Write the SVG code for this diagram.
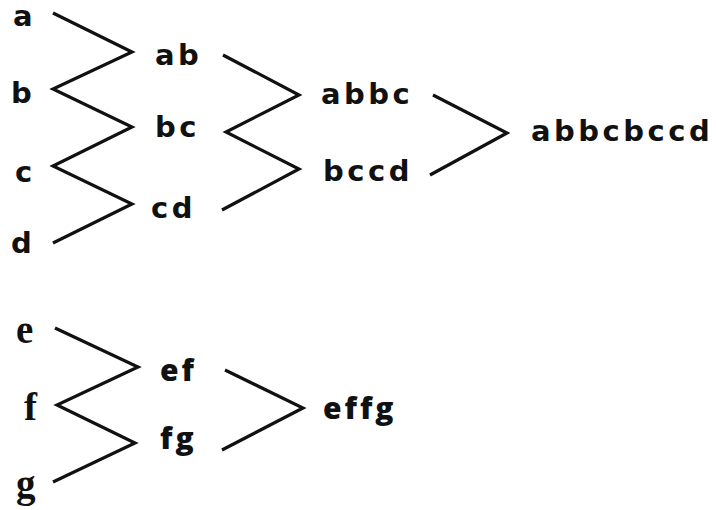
<svg xmlns="http://www.w3.org/2000/svg" width="716" height="510" viewBox="0 0 716 510">
  <style>
    .lbl { font-family: "DejaVu Sans", "Liberation Sans", sans-serif; font-weight: bold; font-size: 29px; letter-spacing: 3.5px; fill: #111; }
    .ser { font-family: "Liberation Serif", "DejaVu Serif", serif; font-weight: bold; font-size: 39px; fill: #111; }
    .hum { font-family: "Open Sans", "Noto Sans", sans-serif; font-weight: 800; font-size: 30px; letter-spacing: 3px; fill: #111; }
    .wire { fill: none; stroke: #111; stroke-width: 3.2; stroke-linejoin: miter; stroke-linecap: butt; }
  </style>
  <rect width="716" height="510" fill="#fff"/>

  <!-- connectors -->
  <g id="connectors">
    <polyline class="wire" points="53,13 132,52 53,89 132,127 53,166 132,204 53,243"/>
    <polyline class="wire" points="223,55 299,95 226,132 299,169 222,210"/>
    <polyline class="wire" points="433,95 507,133 430,175"/>
    <polyline class="wire" points="55,328 138,367 57,405 135,443 53,482"/>
    <polyline class="wire" points="225,370 303,408 222,450"/>
  </g>

  <!-- first tree -->
  <g id="n-a"><text class="lbl" x="13" y="26">a</text></g>
  <g id="n-b"><text class="lbl" x="11" y="103">b</text></g>
  <g id="n-c"><text class="lbl" x="15" y="182">c</text></g>
  <g id="n-d"><text class="lbl" x="11" y="253">d</text></g>
  <g id="n-ab"><text class="lbl" x="155" y="65">ab</text></g>
  <g id="n-bc"><text class="lbl" x="155" y="137">bc</text></g>
  <g id="n-cd"><text class="lbl" x="151" y="218">cd</text></g>
  <g id="n-abbc"><text class="lbl" x="321" y="104">abbc</text></g>
  <g id="n-bccd"><text class="lbl" x="323" y="181">bccd</text></g>
  <g id="n-abbcbccd"><text class="lbl" x="531" y="141">abbcbccd</text></g>

  <!-- second tree -->
  <g id="n-e"><text class="ser" x="16" y="343">e</text></g>
  <g id="n-f"><text class="ser" x="24" y="420">f</text></g>
  <g id="n-g"><text class="ser" x="16" y="497">g</text></g>
  <g id="n-ef"><text class="hum" x="160" y="381">ef</text></g>
  <g id="n-fg"><text class="hum" x="160" y="449">fg</text></g>
  <g id="n-effg"><text class="hum" x="323" y="419">effg</text></g>
</svg>
